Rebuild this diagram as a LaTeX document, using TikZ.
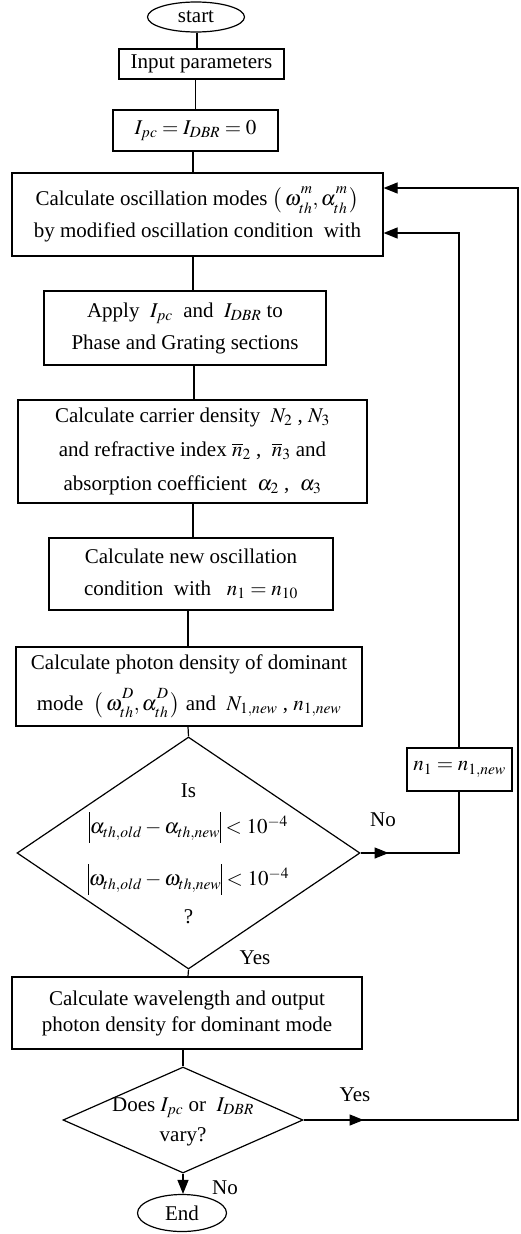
\documentclass[tikz,border=0pt]{standalone}
\usepackage{mathptmx}
\usepackage[no-math]{fontspec}
\setmainfont{Liberation Serif}
\usetikzlibrary{shapes.geometric,arrows.meta,decorations.markings}
\newcommand{\myvbar}{\mathord{\rule[-9pt]{0.9pt}{31pt}}}
\newcommand{\mysupsub}[3]{#1^{\raisebox{4pt}{$\scriptstyle #2$}}_{\raisebox{-2.5pt}{$\scriptstyle #3$}}}
\begin{document}
\begin{tikzpicture}[x=1pt,y=-1pt,
  every node/.style={font=\fontsize{21}{26}\selectfont},
  box/.style={draw,line width=1.2pt,inner sep=2pt,align=center},
  term/.style={draw,ellipse,line width=1.2pt,inner sep=0pt},
  dia/.style={draw,diamond,line width=1.2pt,inner sep=0pt},
  line/.style={line width=1.2pt},
  arr/.style={line width=1.2pt,-{Triangle[length=14pt,width=11pt]}},
  midarr/.style={line width=1.2pt,postaction={decorate},
    decoration={markings,mark=at position #1 with {\arrow{Triangle[length=14pt,width=11pt]}}}}
]
\useasboundingbox (0,0) rectangle (520,1234);

\node[term,minimum width=97pt,minimum height=30pt,label=center:start] (start) at (196,17) {};
\node[box,minimum width=165pt,minimum height=30pt] (input) at (201.5,64) {Input parameters};
\node[box,minimum width=165pt,minimum height=41pt] (ipc) at (195.5,130.5) {$I_{pc}=I_{DBR}=0$};
\node[box,minimum width=371pt,minimum height=83pt] (calc) at (197.5,214.5)
  {Calculate oscillation modes $\bigl(\,\mysupsub{\omega}{m}{th},\mysupsub{\alpha}{m}{th}\,\bigr)$\\[6pt] by modified oscillation condition\ \ with};
\node[box,minimum width=282pt,minimum height=74pt] (apply) at (185,328)
  {Apply\ \ $I_{pc}$\ \ and\ \ $I_{DBR}$ to\\[6pt] Phase and Grating sections};
\node[box,minimum width=349pt,minimum height=103pt] (carrier) at (192.5,451.5)
  {Calculate carrier density\ \ $N_2$ , $N_3$\\[8pt] and refractive index $\overline{n}_2$ ,\ \ $\overline{n}_3$ and\\[8pt] absorption coefficient\ \ $\alpha_2$ ,\ \ $\alpha_3$};
\node[box,minimum width=284pt,minimum height=72pt] (newosc) at (191,574)
  {Calculate new oscillation\\[6pt] condition\ \ with\ \ \ $n_1=n_{10}$};
\node[box,minimum width=346pt,minimum height=79pt] (photon) at (189,686.5)
  {Calculate photon density of dominant\\[13pt] mode\ \ $\bigl(\,\mysupsub{\omega}{D}{th},\mysupsub{\alpha}{D}{th}\,\bigr)$ and\ \ $N_{1,new}$ ,\ $n_{1,new}$};
\node[dia,minimum width=343pt,minimum height=232pt] (d1) at (188.5,853) {};
\node[align=center] (d1t) at (188.5,854)
  {Is\\[10pt] $\myvbar\alpha_{th,old}-\alpha_{th,new}\myvbar<10^{-4}$\\[20pt] $\myvbar\omega_{th,old}-\omega_{th,new}\myvbar<10^{-4}$\\[12pt] ?};
\node[box,minimum width=105pt,minimum height=43pt] (upd) at (459.5,769.5) {$n_1=n_{1,new}$};
\node[box,minimum width=350pt,minimum height=72pt] (wave) at (187,1013)
  {Calculate wavelength and output\\ photon density for dominant mode};
\node[dia,minimum width=240pt,minimum height=106pt] (d2) at (183,1120) {};
\node[align=center] (d2t) at (183,1122) {Does $I_{pc}$ or\ \ $I_{DBR}$\\[4pt] vary?};
\node[term,minimum width=89pt,minimum height=37pt,label=center:End] (end) at (182,1213) {};

\node (no1) at (383,820) {No};
\node (yes1) at (255,958) {Yes};
\node (yes2) at (355,1095) {Yes};
\node (no2) at (225,1188) {No};

\coordinate (j1) at (459,853);
\coordinate (j2) at (459,233);
\coordinate (k1) at (518,1120);
\coordinate (k2) at (518,188);

\draw[line] ([xshift=1pt]start.south) -- ([xshift=-4.5pt]input.north);
\draw[line] ([xshift=-6pt]input.south) -- (ipc.north);
\draw[line] ([xshift=-2.5pt]ipc.south) -- ([xshift=-4.5pt]calc.north);
\draw[line] ([xshift=-4.5pt]calc.south) -- ([xshift=8pt]apply.north);
\draw[line] ([xshift=9pt]apply.south) -- ([xshift=1.5pt]carrier.north);
\draw[line] ([xshift=0.5pt]carrier.south) -- ([xshift=2pt]newosc.north);
\draw[line] ([xshift=-3pt]newosc.south) -- ([xshift=-1pt]photon.north);
\draw[line] ([xshift=-1pt]photon.south) -- (d1.north);
\draw[line] (d1.south) -- ([xshift=1pt]wave.north);
\draw[line] ([xshift=-4pt]wave.south) -- (d2.north);
\draw[arr] (d2.south) -- (d2.south |- end.north);

\draw[midarr=28pt] (d1.east) -- (j1) -- (upd.south -| j1);
\draw[arr] (upd.north -| j2) -- (j2) -- (calc.east |- j2);
\draw[arr,midarr=60pt] (d2.east) -- (k1) -- (k2) -- (calc.east |- k2);
\end{tikzpicture}
\end{document}
